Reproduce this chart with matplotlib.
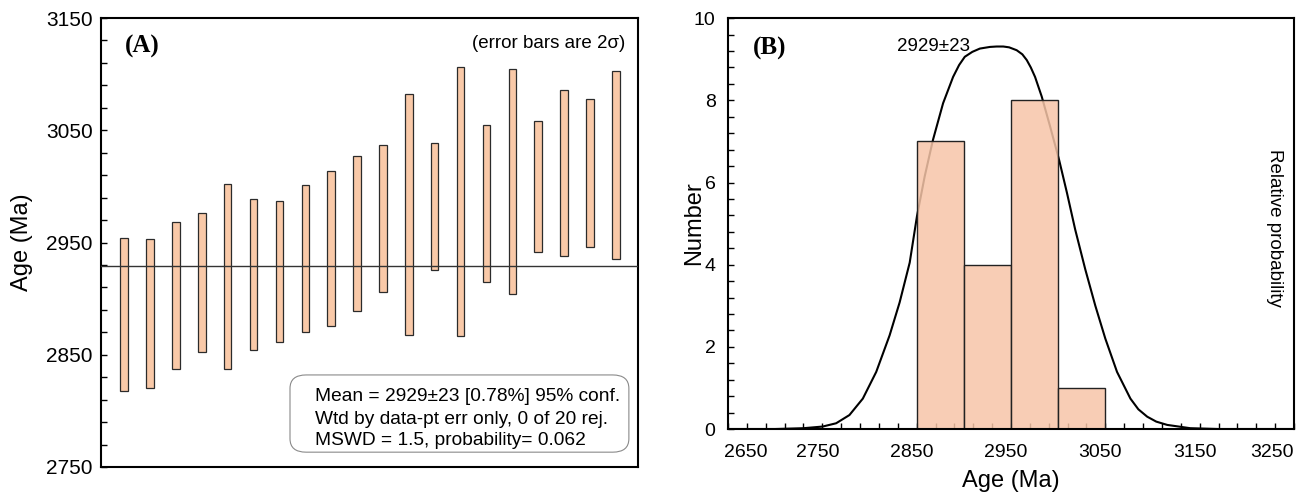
import numpy as np
import matplotlib
matplotlib.use('Agg')
import matplotlib.pyplot as plt
import matplotlib.transforms as mtransforms
from matplotlib.patches import FancyBboxPatch
from matplotlib.ticker import MultipleLocator

plt.rcParams['font.family'] = ['Liberation Sans', 'DejaVu Sans']

# ---- data (A): spot ages and 2 sigma errors, Ma
spot = np.arange(1, 21)
ages = [2885.7, 2886.8, 2903.0, 2914.4, 2920.0, 2921.5, 2924.3, 2935.9, 2944.7, 2958.3,
        2971.7, 2975.0, 2982.2, 2986.7, 2984.8, 3004.0, 2999.9, 3012.1, 3011.9, 3018.9]
err2s = [68.0, 66.2, 65.5, 62.0, 82.4, 67.3, 62.7, 65.6, 69.0, 69.1,
         65.5, 107.4, 56.4, 120.0, 70.0, 100.3, 58.1, 73.8, 66.2, 83.6]
mean_age = 2929
box_lines = ['Mean = 2929\u00b123 [0.78%] 95% conf.',
             'Wtd by data-pt err only, 0 of 20 rej.',
             'MSWD = 1.5, probability= 0.062']

# ---- data (B): histogram and relative probability curve
bin_left = [2850, 2900, 2950, 3000]
counts = [7, 4, 8, 1]
bin_w = 50
curve_age = [2650, 2700, 2730, 2750.3, 2764.6, 2778.7, 2792.9, 2807.1, 2821.3, 2831.9,
             2842.6, 2850.3, 2858.5, 2867.3, 2878.0, 2888.6, 2895.0, 2901.0, 2909.0, 2917.0,
             2927.7, 2934.8, 2941.8, 2948.0, 2956.0, 2962.0, 2966.7, 2971.0, 2975.5, 2982.6,
             2991.5, 3001.0, 3009.3, 3018.0, 3028.7, 3039.4, 3050.0, 3062.4, 3076.6, 3085.0,
             3094.4, 3104.0, 3115.6, 3140.0, 3170, 3250]
curve_val = [0.0, 0.0, 0.02, 0.06, 0.14, 0.34, 0.74, 1.39, 2.28, 3.08,
             4.05, 5.18, 6.15, 7.04, 7.93, 8.57, 8.86, 9.06, 9.18, 9.26,
             9.30, 9.31, 9.31, 9.29, 9.22, 9.12, 8.98, 8.80, 8.57, 8.09,
             7.36, 6.55, 5.75, 4.86, 3.89, 3.0, 2.2, 1.39, 0.74, 0.48,
             0.30, 0.18, 0.10, 0.02, 0.0, 0.0]

fig = plt.figure(figsize=(13.01, 4.95), dpi=100)
axA = fig.add_axes([0.0776, 0.0566, 0.4128, 0.907])
axB = fig.add_axes([0.5596, 0.1333, 0.435, 0.830])

for ax in (axA, axB):
    for s in ax.spines.values():
        s.set_linewidth(1.5)

# ---------------- panel A
ages_a = np.array(ages)
err_a = np.array(err2s)
axA.bar(spot, 2 * err_a, bottom=ages_a - err_a, width=0.29,
        facecolor='#F9C9A8', edgecolor='#2b2b2b', linewidth=0.9, zorder=2)
axA.axhline(mean_age, color='#333333', lw=1.0, zorder=3)
axA.set_xlim(0.1, 20.86)
axA.set_ylim(2750, 3150)
axA.set_xticks([])
axA.set_yticks(np.arange(2750, 3151, 100))
axA.set_yticks(np.arange(2750, 3151, 20), minor=True)
axA.tick_params(axis='y', which='both', direction='in', length=4, width=1,
                labelsize=15, pad=6)
axA.set_ylabel('Age (Ma)', fontsize=17)
axA.yaxis.set_label_coords(-0.127, 0.5)

axA.text(0.045, 0.962, '(A)', transform=axA.transAxes, ha='left', va='top',
         fontsize=18, fontweight='bold', family=['Liberation Serif', 'DejaVu Serif'])
axA.text(0.976, 0.944, '(error bars are 2\u03c3)', transform=axA.transAxes,
         ha='right', va='center', fontsize=13.5)

box = FancyBboxPatch((0.352, 0.033), 0.631, 0.172,
                     boxstyle='round,pad=0,rounding_size=0.03',
                     transform=axA.transAxes, facecolor='white',
                     edgecolor='#8a8a8a', linewidth=0.8, zorder=4)
axA.add_patch(box)
for yy, line in zip([0.156, 0.105, 0.058], box_lines):
    axA.text(0.3985, yy, line, transform=axA.transAxes, ha='left', va='center',
             fontsize=13.8, zorder=5)

# ---------------- panel B
axB.set_axisbelow(True)
axB.plot(curve_age, curve_val, color='black', lw=1.5, zorder=0.8)
axB.bar(bin_left, counts, width=bin_w, align='edge',
        facecolor=(0.969, 0.773, 0.659, 0.85), edgecolor='#222222',
        linewidth=1.0, zorder=1)
axB.set_xlim(2650, 3250)
axB.set_ylim(0, 10)
axB.yaxis.set_major_locator(MultipleLocator(2))
axB.yaxis.set_minor_locator(MultipleLocator(0.4))
axB.tick_params(axis='both', which='both', direction='in', length=4, width=1,
                labelsize=14)
axB.tick_params(axis='x', pad=11)
axB.tick_params(axis='y', pad=9)
axB.set_xticks(np.arange(2650, 3251, 100))
axB.set_xticks(np.arange(2650, 3251, 20), minor=True)
axB.set_xlabel('Age (Ma)', fontsize=17)
axB.xaxis.set_label_coords(0.5, -0.10)
axB.set_ylabel('Number', fontsize=17)
axB.yaxis.set_label_coords(-0.041, 0.5)

ticks = axB.xaxis.get_major_ticks()
shift = mtransforms.ScaledTranslation(-5 / 100, 0, fig.dpi_scale_trans)
for i, t in enumerate(ticks):
    if i == 0:
        t.label1.set_ha('left')
        t.label1.set_transform(t.label1.get_transform()
                               + mtransforms.ScaledTranslation(-4 / 100, 0, fig.dpi_scale_trans))
    elif i == len(ticks) - 1:
        t.label1.set_ha('right')
    else:
        t.label1.set_transform(t.label1.get_transform() + shift)

axB.text(0.044, 0.954, '(B)', transform=axB.transAxes, ha='left', va='top',
         fontsize=18, fontweight='bold', family=['Liberation Serif', 'DejaVu Serif'])
axB.text(2906, 9.3, '2929\u00b123', ha='right', va='center', fontsize=13.5)
axB.text(0.966, 0.489, 'Relative probability', transform=axB.transAxes,
         rotation=270, ha='center', va='center', fontsize=13.5)

fig.savefig('out.png', dpi=100)
